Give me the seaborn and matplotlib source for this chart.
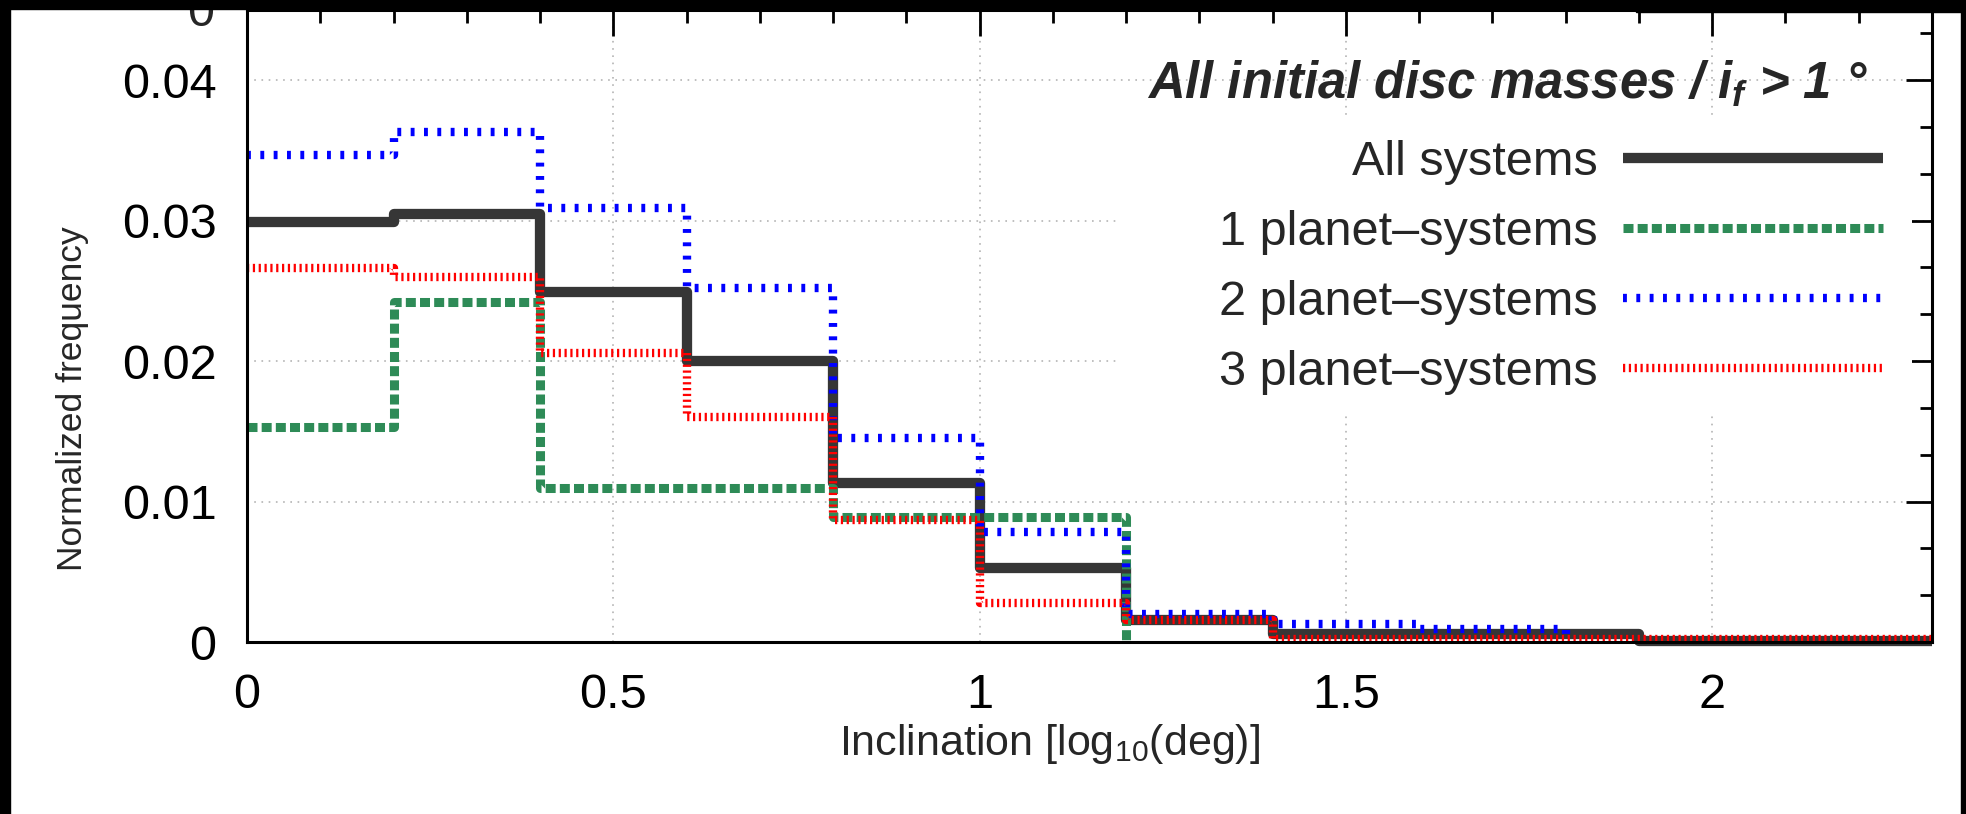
import numpy as np
import pandas as pd
import seaborn as sns
import matplotlib
matplotlib.use("Agg")
import matplotlib.pyplot as plt
from matplotlib.patches import Rectangle
from matplotlib.ticker import MultipleLocator, FuncFormatter

# Histogramas normalizados de inclinacion (bordes de bin y frecuencia por bin)
edges_all = [0.0, 0.2, 0.4, 0.6, 0.8, 1.0, 1.2, 1.4, 1.9, 2.3]
freq_all = [0.0299, 0.0305, 0.0249, 0.0200, 0.0113, 0.0053, 0.0016, 0.0006, 0.0001]

edges_1p = [0.0, 0.2, 0.4, 0.6, 0.8, 1.0, 1.2, 1.2]
freq_1p = [0.0153, 0.0242, 0.0110, 0.0110, 0.0089, 0.0089, 0.0]

edges_2p = [0.0, 0.2, 0.4, 0.6, 0.8, 1.0, 1.2, 1.4, 1.6, 1.8, 1.8]
freq_2p = [0.0347, 0.0363, 0.0309, 0.0252, 0.0145, 0.0078, 0.0020, 0.0013, 0.0009, 0.0]

edges_3p = [0.0, 0.2, 0.4, 0.6, 0.8, 1.0, 1.2, 1.4, 2.3]
freq_3p = [0.0266, 0.0260, 0.0206, 0.0160, 0.0087, 0.0028, 0.0016, 0.0002]

labels = ["All systems", "1 planet\u2013systems", "2 planet\u2013systems", "3 planet\u2013systems"]

sns.set_theme(style="white")
plt.rcParams['font.family'] = ['Liberation Sans', 'DejaVu Sans']
plt.rcParams['mathtext.fontset'] = 'custom'
plt.rcParams['mathtext.rm'] = 'Liberation Sans'
plt.rcParams['mathtext.it'] = 'Liberation Sans:italic:bold'
plt.rcParams['lines.scale_dashes'] = False

fig = plt.figure(figsize=(19.66, 8.14), dpi=100)
ax = fig.add_axes([247 / 1966, 1 - 642 / 814, (1932 - 247) / 1966, (642 - 10) / 814])

estilos = [
    dict(color="#363636", linewidth=7.4, linestyle="-"),
    dict(color="#2e8b57", linewidth=6.5, linestyle=(0, (7.2, 3.0))),
    dict(color="#0000ff", linewidth=6.0, linestyle=(0, (2.8, 6.8))),
    dict(color="#ff0000", linewidth=6.0, linestyle=(0, (1.6, 2.6))),
]

series = [(edges_all, freq_all), (edges_1p, freq_1p), (edges_2p, freq_2p), (edges_3p, freq_3p)]
for (edges, freq), lab, est in zip(series, labels, estilos):
    df = pd.DataFrame({"x": edges, "y": list(freq) + [freq[-1]]})
    sns.lineplot(data=df, x="x", y="y", ax=ax, drawstyle="steps-post", label=lab,
                 estimator=None, sort=False, clip_on=False, solid_capstyle="butt", **est)

ax.set_xlim(0, 2.3)
ax.set_ylim(0, 0.045)
ax.xaxis.set_major_locator(MultipleLocator(0.5))
ax.xaxis.set_minor_locator(MultipleLocator(0.1))
ax.yaxis.set_major_locator(MultipleLocator(0.01))
ax.yaxis.set_minor_locator(MultipleLocator(0.01 / 3))
ax.xaxis.set_major_formatter(FuncFormatter(lambda v, p: f"{v:g}"))
ax.yaxis.set_major_formatter(FuncFormatter(lambda v, p: "0" if abs(v) < 1e-9 else f"{v:.2f}"))
ax.tick_params(which="both", direction="in", top=True, right=True, colors="black",
               labelsize=35, width=2)
ax.tick_params(which="major", length=19, pad=22)
ax.tick_params(which="minor", length=9)
for s in ax.spines.values():
    s.set_linewidth(2.2)
    s.set_color("black")
ax.grid(True, which="major", color="#b4b4b4", linestyle=(0, (1.2, 4.0)), linewidth=1.2)
ax.set_axisbelow(True)

ax.set_xlabel(r"Inclination [log$_{\mathrm{10}}$(deg)]", fontsize=31)
ax.xaxis.set_label_coords(0.4766, -0.162)
ax.xaxis.label.set_va("center")
ax.set_ylabel("Normalized frequency", fontsize=25.5)
ax.yaxis.set_label_coords(-0.1033, 0.3845)
ax.yaxis.label.set_va("center")
ax.yaxis.label.set_ha("center")

# caja opaca de la leyenda (tapa la rejilla, no las marcas del eje)
ax.add_patch(Rectangle((0.516, 0.361), 0.472, 0.4665, transform=ax.transAxes,
                       facecolor="white", edgecolor="none", zorder=0.6))
leg = ax.legend(loc="upper right", bbox_to_anchor=(0.971, 0.795), markerfirst=False, frameon=False,
                fontsize=35, handlelength=5.35, handletextpad=0.53, labelspacing=0.52,
                borderpad=0, borderaxespad=0)

ax.text(0.962, 0.882, r"All initial disc masses / $i_f$ > 1 °", transform=ax.transAxes,
        ha="right", va="center", fontsize=36.5, fontweight="bold", fontstyle="italic")

# resto del panel superior (recortado) y marco negro
fig.text(214 / 1966, 1 - 26 / 814, "0", ha="right", va="baseline", fontsize=35, zorder=5)
marcos = [(0, 1 - 9 / 814, 1, 9 / 814), (1636 / 1966, 1 - 12 / 814, 325 / 1966, 12 / 814),
          (0, 0, 10 / 1966, 1), (1 - 5 / 1966, 0, 5 / 1966, 1)]
for (x0, y0, w, h) in marcos:
    fig.add_artist(Rectangle((x0, y0), w, h, transform=fig.transFigure, color="black", zorder=20))

fig.savefig("out.png", dpi=100, facecolor="white")
